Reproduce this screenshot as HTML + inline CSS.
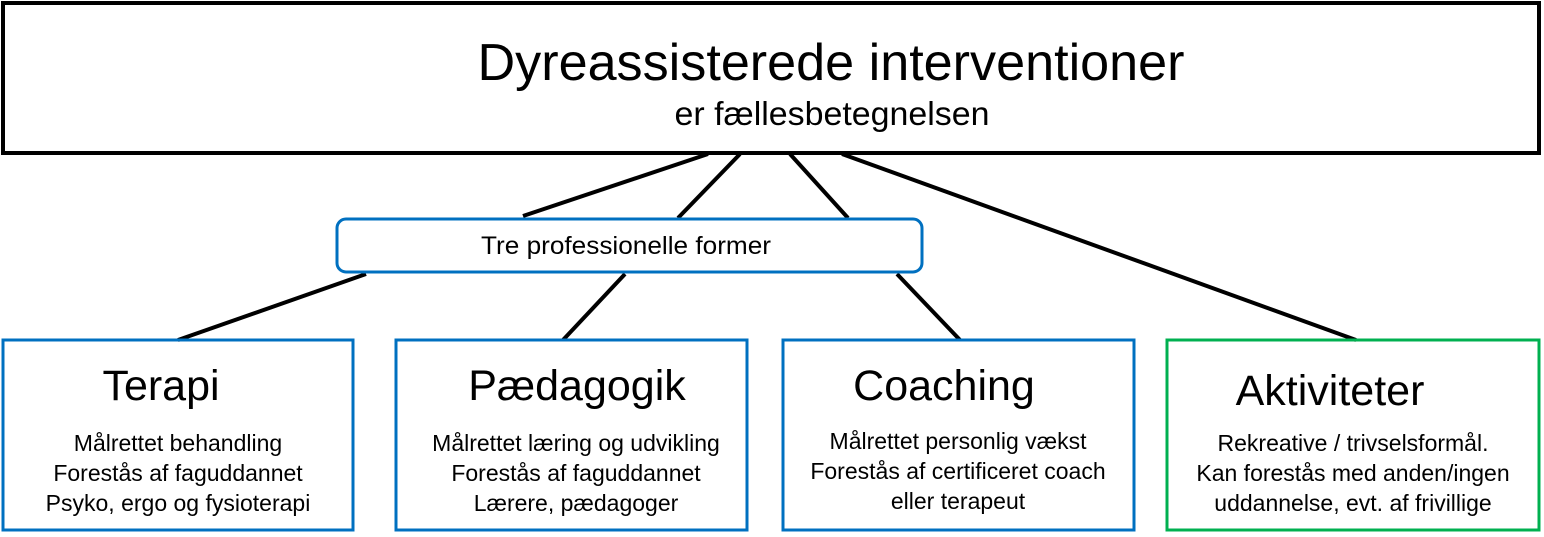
<!DOCTYPE html>
<html><head><meta charset="utf-8"><style>
html,body{margin:0;padding:0;background:#fff;}
svg{display:block;}
text{font-family:"Liberation Sans",sans-serif;fill:#000;}
</style></head><body>
<svg width="1544" height="537" viewBox="0 0 1544 537" xmlns="http://www.w3.org/2000/svg">
<rect x="3" y="3" width="1536" height="150" fill="#fff" stroke="#000" stroke-width="4"/>
<text x="831" y="80" font-size="52" text-anchor="middle" textLength="707" lengthAdjust="spacingAndGlyphs">Dyreassisterede interventioner</text>
<text x="832" y="125" font-size="33" text-anchor="middle" textLength="315" lengthAdjust="spacingAndGlyphs">er fællesbetegnelsen</text>
<g stroke="#000" stroke-width="4" stroke-linecap="butt">
<line x1="708" y1="154" x2="523" y2="216"/>
<line x1="740" y1="154" x2="678" y2="218"/>
<line x1="790" y1="154" x2="848" y2="218"/>
<line x1="842" y1="154" x2="1356" y2="340"/>
<line x1="366" y1="274" x2="178" y2="340"/>
<line x1="625" y1="274" x2="563" y2="340"/>
<line x1="897" y1="274" x2="960" y2="340"/>
</g>
<rect x="337" y="219" width="585" height="53" rx="9" fill="#fff" stroke="#0070c0" stroke-width="3"/>
<text x="626" y="254" font-size="25" text-anchor="middle" textLength="290" lengthAdjust="spacingAndGlyphs">Tre professionelle former</text>
<g text-anchor="middle" font-size="23">
<text x="161" y="400" font-size="43">Terapi</text>
<text x="178" y="451">Målrettet behandling</text>
<text x="178" y="481">Forestås af faguddannet</text>
<text x="178" y="511">Psyko, ergo og fysioterapi</text>
<text x="577" y="400" font-size="43">Pædagogik</text>
<text x="576" y="451">Målrettet læring og udvikling</text>
<text x="576" y="481">Forestås af faguddannet</text>
<text x="576" y="511">Lærere, pædagoger</text>
<text x="944" y="400" font-size="43">Coaching</text>
<text x="958" y="449">Målrettet personlig vækst</text>
<text x="958" y="479">Forestås af certificeret coach</text>
<text x="958" y="509">eller terapeut</text>
<text x="1330" y="405" font-size="43">Aktiviteter</text>
<text x="1353" y="451">Rekreative / trivselsformål.</text>
<text x="1353" y="481">Kan forestås med anden/ingen</text>
<text x="1353" y="511">uddannelse, evt. af frivillige</text>
</g>
<rect x="3" y="340" width="350" height="190" fill="none" stroke="#0070c0" stroke-width="3"/>
<rect x="396" y="340" width="351" height="190" fill="none" stroke="#0070c0" stroke-width="3"/>
<rect x="783" y="340" width="351" height="190" fill="none" stroke="#0070c0" stroke-width="3"/>
<rect x="1167" y="340" width="372" height="190" fill="none" stroke="#00b050" stroke-width="3"/>
</svg>
</body></html>
